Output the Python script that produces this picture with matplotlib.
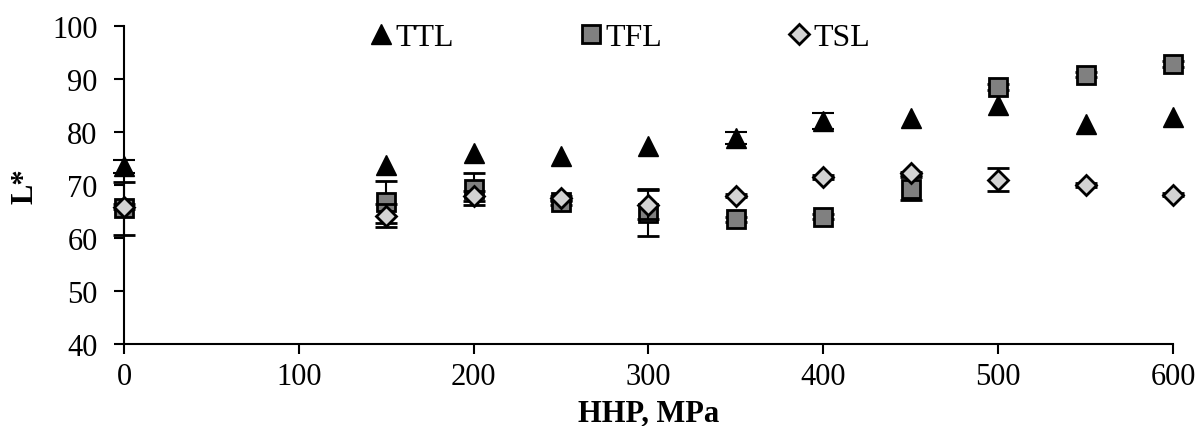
import numpy as np
import matplotlib
matplotlib.use("Agg")
import matplotlib.pyplot as plt

plt.rcParams['font.family'] = ['Liberation Serif', 'DejaVu Serif']

# HHP pressure levels (MPa)
pressure = [0, 150, 200, 250, 300, 350, 400, 450, 500, 550, 600]

# L* values
ttl = [73.5, 73.7, 76.1, 75.4, 77.3, 78.9, 82.0, 82.7, 85.1, 81.6, 82.9]
tfl = [65.6, 66.8, 69.3, 66.7, 64.8, 63.5, 64.0, 69.3, 88.5, 90.8, 92.8]
tsl = [65.9, 64.2, 67.9, 67.5, 66.3, 68.0, 71.5, 72.2, 71.0, 70.0, 68.2]

# error bars (nan = hidden behind the marker)
ttl_err = [1.2, np.nan, np.nan, np.nan, np.nan, 1.1, 1.5, np.nan, np.nan, np.nan, np.nan]
tfl_err = [5.0, 4.0, 3.0, 0.5, 4.4, 0.5, 0.5, 2.2, 0.5, 0.5, 0.5]
tsl_err = [0.5, 2.2, 1.0, 0.5, 2.7, 0.3, 0.3, 0.3, 2.2, 0.3, 0.3]

fig = plt.figure(figsize=(12, 4.27), dpi=100)
ax = fig.add_axes([0.1033, 0.192, 0.8742, 0.7448])

err_kw = dict(ecolor='black', elinewidth=1.5, capsize=8, capthick=1.5, linestyle='none',
              clip_on=False)

c1 = ax.errorbar(pressure, ttl, yerr=ttl_err, marker='^', markersize=14,
                 markerfacecolor='black', markeredgecolor='black', label='TTL', **err_kw)
c2 = ax.errorbar(pressure, tfl, yerr=tfl_err, marker='s', markersize=13,
                 markerfacecolor='#808080', markeredgecolor='black', markeredgewidth=2,
                 label='TFL', **err_kw)
c3 = ax.errorbar(pressure, tsl, yerr=tsl_err, marker='D', markersize=10,
                 markerfacecolor='#d3d3d3', markeredgecolor='black', markeredgewidth=2,
                 label='TSL', **err_kw)
# markers above the error bars, as in the original
for i, c in enumerate((c1, c2, c3)):
    c[0].set_zorder(4 + 2 * i)
    for art in c.lines[1] + c.lines[2]:
        art.set_clip_on(False)
        art.set_zorder(3 + 2 * i)

ax.set_xlim(0, 600)
ax.set_ylim(40, 100)
ax.set_xticks(np.arange(0, 601, 100))
ax.set_yticks(np.arange(40, 101, 10))
ax.tick_params(axis='both', labelsize=22, width=1.5, length=7, direction='out')
ax.tick_params(axis='x', pad=6)
ax.tick_params(axis='y', pad=12)
for side in ['top', 'right']:
    ax.spines[side].set_visible(False)
for side in ['left', 'bottom']:
    ax.spines[side].set_linewidth(1.5)
ax.spines['left'].set_zorder(0)

ax.set_xlabel('HHP, MPa', fontsize=22, fontweight='bold', labelpad=5)
ax.set_ylabel('L*', fontsize=22, fontweight='bold', labelpad=9)

ax.legend(handles=[c1[0], c2[0], c3[0]], labels=['TTL', 'TFL', 'TSL'],
          loc='upper center', bbox_to_anchor=(0.472, 1.1), ncol=3, frameon=False,
          fontsize=23, handlelength=0.8, handletextpad=0.05, columnspacing=3.9)

fig.savefig('out.png', dpi=100)
